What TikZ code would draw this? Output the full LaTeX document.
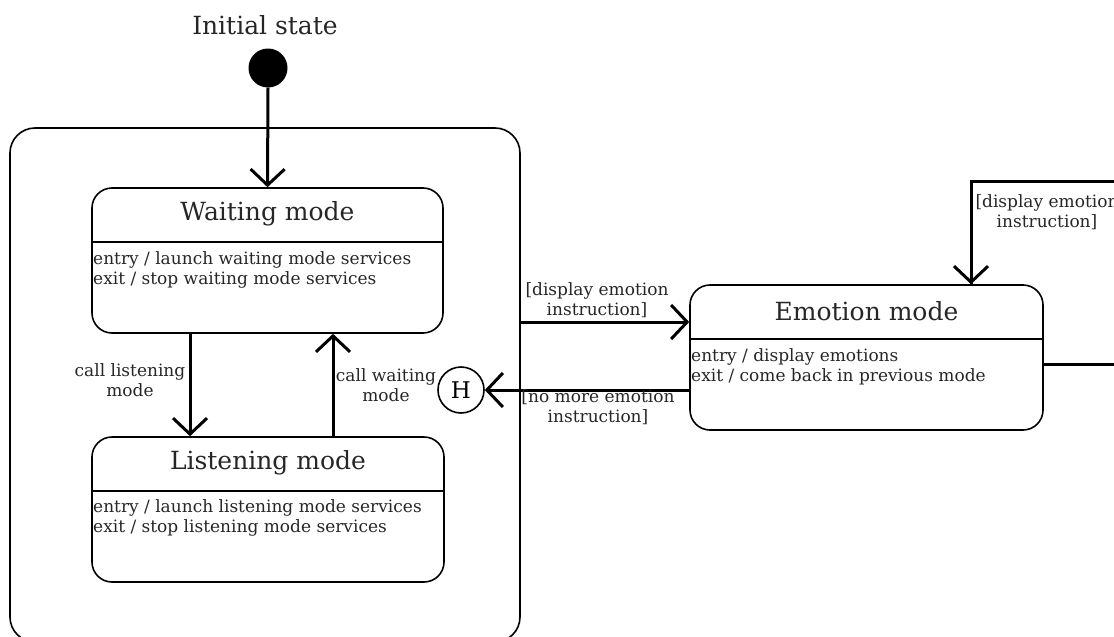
\documentclass[tikz,border=0pt]{standalone}
\usepackage{fontspec}
\setmainfont{DejaVu Serif}
\usetikzlibrary{arrows.meta}
\begin{document}
\begin{tikzpicture}[x=1pt,y=-1pt,
  statebox/.style={draw, line width=1.6pt, rounded corners=20pt, inner sep=0pt},
  title/.style={font=\fontsize{25}{29}\selectfont, text=black!85},
  body/.style={font=\fontsize{17}{20.5}\selectfont, align=left, anchor=north west, inner sep=1pt, text=black!85},
  lbl/.style={font=\fontsize{17}{20.5}\selectfont, align=center, inner sep=1pt, text=black!85},
  arr/.style={line width=3pt, -{Straight Barb[length=16pt,width=34pt]}},
  seg/.style={line width=1.6pt}]
\useasboundingbox (0,0) rectangle (1114,637);
\clip (0,0) rectangle (1114,637);

% initial pseudo-state
\node[font=\fontsize{25}{29}\selectfont, text=black!85] (inittxt) at (265,25) {Initial state};
\node[circle, fill=black, minimum size=39pt, inner sep=0pt] (init) at (268,68) {};

% composite state
\node[draw, line width=1.6pt, rounded corners=25pt, minimum width=510pt, minimum height=514pt, inner sep=0pt] (outer) at (265,385) {};

% waiting mode
\node[statebox, minimum width=351pt, minimum height=145pt] (wait) at (267.5,260.5) {};
\coordinate (wsep) at (0,242);
\draw[seg] (wait.west |- wsep) -- (wait.east |- wsep);
\node[title] (waitt) at (267.5,214) {Waiting mode};
\node[body] (waitb) at (92,250) {entry / launch waiting mode services\\exit / stop waiting mode services};

% listening mode
\node[statebox, minimum width=352pt, minimum height=145pt] (listen) at (268,509.5) {};
\coordinate (lsep) at (0,491);
\draw[seg] (listen.west |- lsep) -- (listen.east |- lsep);
\node[title] (listent) at (268,463) {Listening mode};
\node[body] (listenb) at (92,498) {entry / launch listening mode services\\exit / stop listening mode services};

% emotion mode
\node[statebox, minimum width=353pt, minimum height=145pt] (emo) at (866.5,357.5) {};
\coordinate (esep) at (0,339);
\draw[seg] (emo.west |- esep) -- (emo.east |- esep);
\node[title] (emot) at (866.5,311) {Emotion mode};
\node[body] (emob) at (690,347) {entry / display emotions\\exit / come back in previous mode};

% history pseudo-state
\node[circle, draw, line width=1.6pt, minimum size=46pt, inner sep=0pt, font=\fontsize{23}{26}\selectfont] (hist) at (461,390) {H};

% transitions
\draw[arr] (init.south) -- (wait.north);

\coordinate (xl) at (190,0);
\coordinate (xw) at (333,0);
\draw[arr] (wait.south -| xl) -- (listen.north -| xl);
\draw[arr] (listen.north -| xw) -- (wait.south -| xw);
\node[lbl] (lblcl) at (130,380) {call listening\\mode};
\node[lbl] (lblcw) at (386,385) {call waiting\\mode};

\coordinate (yin) at (0,322);
\draw[arr] (outer.east |- yin) -- (emo.west |- yin);
\node[lbl] (lblin) at (597,300) {[display emotion\\instruction]};

\draw[arr] (emo.west |- hist) -- (hist.east);
\node[lbl] (lblout) at (598,407) {[no more emotion\\instruction]};

% self transition on emotion mode
\coordinate (yloop) at (0,364);
\coordinate (loopa) at (1130,364);
\coordinate (loopb) at (1130,181);
\coordinate (loopc) at (971,181);
\coordinate (xloop) at (971,0);
\draw[line width=3pt, line join=miter] (emo.east |- yloop) -- (loopa) -- (loopb) -- (loopc) -- (emo.north -| xloop);
\draw[arr] (loopc) -- (emo.north -| xloop);
\node[lbl] (lblself) at (1047,212) {[display emotion\\instruction]};
\end{tikzpicture}
\end{document}
